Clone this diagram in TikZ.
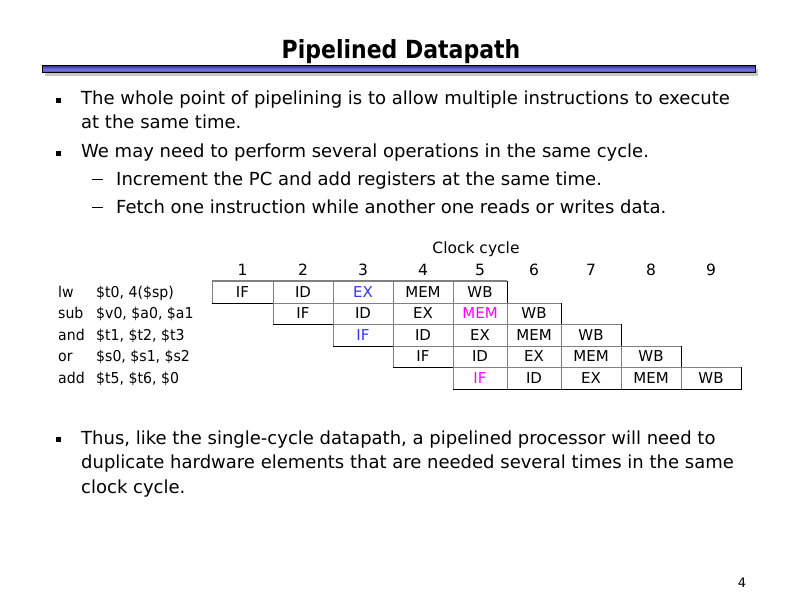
\documentclass[tikz,border=0pt]{standalone}
\usepackage{fontspec}
\setmainfont{DejaVu Sans}
\newfontfamily\titlefont{DejaVu Sans}[FakeStretch=0.88]
\newfontfamily\instrfont{DejaVu Sans}[FakeStretch=0.94]
\definecolor{barmid}{RGB}{120,120,235}
\definecolor{baredge}{RGB}{55,55,170}
\definecolor{hiblue}{RGB}{51,51,255}
\definecolor{himag}{RGB}{255,0,255}
\definecolor{cellgrey}{RGB}{128,128,128}
\begin{document}
\begin{tikzpicture}[x=1pt,y=-1pt,
  txt/.style={inner sep=0pt,anchor=base west,font=\fontsize{18}{22}\selectfont},
  bul/.style={fill=black,minimum size=5pt,inner sep=0pt},
  instr/.style={inner sep=0pt,anchor=base west,font=\instrfont\fontsize{15}{17}\selectfont},
  cell/.style={inner sep=0pt,anchor=base,font=\fontsize{15}{18}\selectfont},
  hdr/.style={inner sep=0pt,anchor=base,font=\fontsize{15.5}{18}\selectfont},
  gline/.style={draw=cellgrey,line width=1pt},
  bline/.style={draw=black,line width=1pt}]
\useasboundingbox (0,0) rectangle (792,612);
% title
\node[inner sep=0pt,anchor=base,font=\titlefont\bfseries\fontsize{25}{30}\selectfont] (title) at (401,59) {Pipelined Datapath};
\fill[black!22] (45,69) rectangle (758,76);
\shade[top color=baredge,bottom color=baredge,middle color=barmid] (42,66) rectangle (755,73);
\draw[black,line width=1pt] (42,66) rectangle (755,73);
% bullets
\node[bul] (b1) at (58.5,100.5) {};
\node[txt] (t1) at (81,105) {The whole point of pipelining is to allow multiple instructions to execute};
\node[txt] (t2) at (81,129) {at the same time.};
\node[bul] (b2) at (58.5,153.5) {};
\node[txt] (t3) at (81,158) {We may need to perform several operations in the same cycle.};
\node[txt] (d1) at (92,186) {\rule[5.5pt]{11pt}{1.3pt}};
\node[txt] (t4) at (116,186) {Increment the PC and add registers at the same time.};
\node[txt] (d2) at (92,214) {\rule[5.5pt]{11pt}{1.3pt}};
\node[txt] (t5) at (116,214) {Fetch one instruction while another one reads or writes data.};
\node[bul] (b3) at (58.5,439.5) {};
\node[txt] (t6) at (81,444) {Thus, like the single-cycle datapath, a pipelined processor will need to};
\node[txt] (t7) at (81,468) {duplicate hardware elements that are needed several times in the same};
\node[txt] (t8) at (81,493) {clock cycle.};
% header
\node[hdr] (cc) at (476,254) {Clock cycle};
\foreach \n/\x in {1/242.5,2/303,3/363,4/423,5/480,6/534,7/591,8/651,9/711}
  \node[hdr] (h\n) at (\x,276) {\n};
% instructions
\foreach \i/\op/\args/\y in {1/lw/{\$t0, 4(\$sp)}/297, 2/sub/{\$v0, \$a0, \$a1}/318.5, 3/and/{\$t1, \$t2, \$t3}/340, 4/or/{\$s0, \$s1, \$s2}/361.5, 5/add/{\$t5, \$t6, \$0}/383}{
  \node[instr] (op\i) at (58,\y) {\op};
  \node[instr] (ar\i) at (96,\y) {\args};
}
% table rows
\def\rowbox#1#2#3#4{% left, right, top, bottom
  \draw[gline] (#1,#4) -- (#1,#3) -- (#2,#3);
  \draw[bline] (#2,#3) -- (#2,#4) -- (#1,#4);
}
\rowbox{212}{507}{281}{303}
\rowbox{273}{561}{303}{324}
\rowbox{333}{621}{324}{346}
\rowbox{393}{681}{346}{367}
\rowbox{453}{741}{367}{389}
% internal dividers
\foreach \x/\t/\b in {273/281/303, 333/281/324, 393/281/346, 453/281/367, 507/303/389, 561/324/389, 621/346/389, 681/367/389}
  \draw[gline] (\x,\t) -- (\x,\b);
% cell texts
\node[cell] (c11) at (242.5,297) {IF};
\node[cell] (c12) at (303,297) {ID};
\node[cell,text=hiblue] (c13) at (363,297) {EX};
\node[cell] (c14) at (423,297) {MEM};
\node[cell] (c15) at (480,297) {WB};
\node[cell] (c22) at (303,318.5) {IF};
\node[cell] (c23) at (363,318.5) {ID};
\node[cell] (c24) at (423,318.5) {EX};
\node[cell,text=himag] (c25) at (480,318.5) {MEM};
\node[cell] (c26) at (534,318.5) {WB};
\node[cell,text=hiblue] (c33) at (363,340) {IF};
\node[cell] (c34) at (423,340) {ID};
\node[cell] (c35) at (480,340) {EX};
\node[cell] (c36) at (534,340) {MEM};
\node[cell] (c37) at (591,340) {WB};
\node[cell] (c44) at (423,361.5) {IF};
\node[cell] (c45) at (480,361.5) {ID};
\node[cell] (c46) at (534,361.5) {EX};
\node[cell] (c47) at (591,361.5) {MEM};
\node[cell] (c48) at (651,361.5) {WB};
\node[cell,text=himag] (c55) at (480,383) {IF};
\node[cell] (c56) at (534,383) {ID};
\node[cell] (c57) at (591,383) {EX};
\node[cell] (c58) at (651,383) {MEM};
\node[cell] (c59) at (711,383) {WB};
% page number
\node[inner sep=0pt,anchor=base,font=\fontsize{13}{16}\selectfont] (pg) at (742,587) {4};
\end{tikzpicture}
\end{document}
